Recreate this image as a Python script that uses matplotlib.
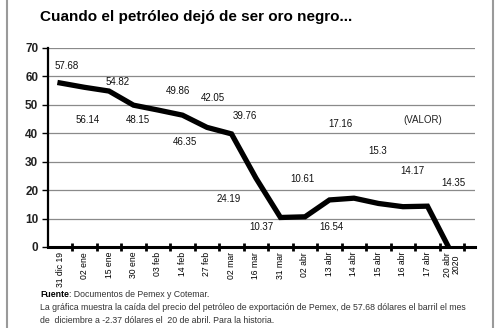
import matplotlib
matplotlib.use("Agg")
import matplotlib.pyplot as plt
import numpy as np
from matplotlib.lines import Line2D

fechas = ["31 dic 19", "02 ene", "15 ene", "30 ene", "03 feb", "14 feb", "27 feb",
          "02 mar", "16 mar", "31 mar", "02 abr", "13 abr", "14 abr", "15 abr",
          "16 abr", "17 abr", "20 abr\n2020"]
precios = [57.68, 56.14, 54.82, 49.86, 48.15, 46.35, 42.05, 39.76, 24.19, 10.37,
           10.61, 16.54, 17.16, 15.3, 14.17, 14.35, -2.37]
# etiquetas de valor tal como aparecen en la grafica (sin el -2.37)
etiquetas = ["57.68", "56.14", "54.82", "48.15", "49.86", "46.35", "42.05", "39.76",
             "24.19", "10.37", "10.61", "16.54", "17.16", "15.3", "14.17", "14.35"]
# donde van las etiquetas (coordenadas de datos)
etq_x = [0.29, 1.14, 2.37, 3.18, 4.82, 5.10, 6.24, 7.55, 6.90, 8.24, 9.88, 11.06,
         11.43, 12.98, 14.37, 16.04]
etq_y = [63.7, 44.7, 58.0, 44.7, 54.9, 36.9, 52.4, 46.1, 16.9, 6.9, 23.9, 6.9,
         43.3, 33.8, 26.7, 22.5]

plt.rcParams["font.family"] = ["Liberation Sans", "DejaVu Sans"]

fig = plt.figure(figsize=(5, 3.28), dpi=100)
ax = fig.add_axes([0.096, 0.247, 0.854, 0.607])

x = np.arange(len(fechas))
ax.plot(x, precios, color="black", lw=3.8, solid_joinstyle="miter", zorder=3)

for t, tx, ty in zip(etiquetas, etq_x, etq_y):
    ax.text(tx, ty, t, ha="center", va="center", fontsize=7, color="#111")
ax.text(14.82, 44.5, "(VALOR)", ha="center", va="center", fontsize=7, color="#222")

ax.set_ylim(0, 70)
ax.set_xlim(-0.49, 16.94)
ax.set_yticks(range(0, 71, 10))
ax.yaxis.grid(True, color="#8a8a8a", lw=0.9)
ax.set_axisbelow(True)

ax.set_xticks(x)
ax.set_xticklabels(fechas, rotation=90, fontsize=6.2, linespacing=0.9)
ax.set_xticks(x + 0.5, minor=True)
ax.tick_params(axis="x", which="major", length=0, pad=3.5)
ax.tick_params(axis="x", which="minor", length=6, width=2, direction="inout")
ax.tick_params(axis="y", length=4, width=1, labelsize=8.5, pad=3)
for lab in ax.get_yticklabels():
    lab.set_fontweight("bold")
    lab.set_color("#222")

for s in ["top", "right"]:
    ax.spines[s].set_visible(False)
ax.spines["left"].set_linewidth(1.6)
ax.spines["bottom"].set_linewidth(2.2)

fig.text(0.08, 0.947, "Cuando el petróleo dejó de ser oro negro...", fontsize=11,
         fontweight="bold", va="center", ha="left")

t1 = fig.text(0.08, 0.094, "Fuente", fontsize=6.3, fontweight="bold")
ax.annotate(": Documentos de Pemex y Cotemar.", xy=(1, 0), xycoords=t1,
            va="bottom", ha="left", fontsize=6.3, color="#333",
            annotation_clip=False)
fig.text(0.08, 0.054, "La gráfica muestra la caída del precio del petróleo de exportación "
         "de Pemex, de 57.68 dólares el barril el mes", fontsize=6.3, color="#333")
fig.text(0.08, 0.016, "de  diciembre a -2.37 dólares el  20 de abril. Para la historia.",
         fontsize=6.3, color="#333")

# marco gris de la nota
fig.add_artist(Line2D([0.014, 0.014], [0.0, 1.0], color="#9a9a9a", lw=1.5))
fig.add_artist(Line2D([0.986, 0.986], [0.0, 1.0], color="#9a9a9a", lw=1.5))

fig.savefig("out.png", dpi=100)
